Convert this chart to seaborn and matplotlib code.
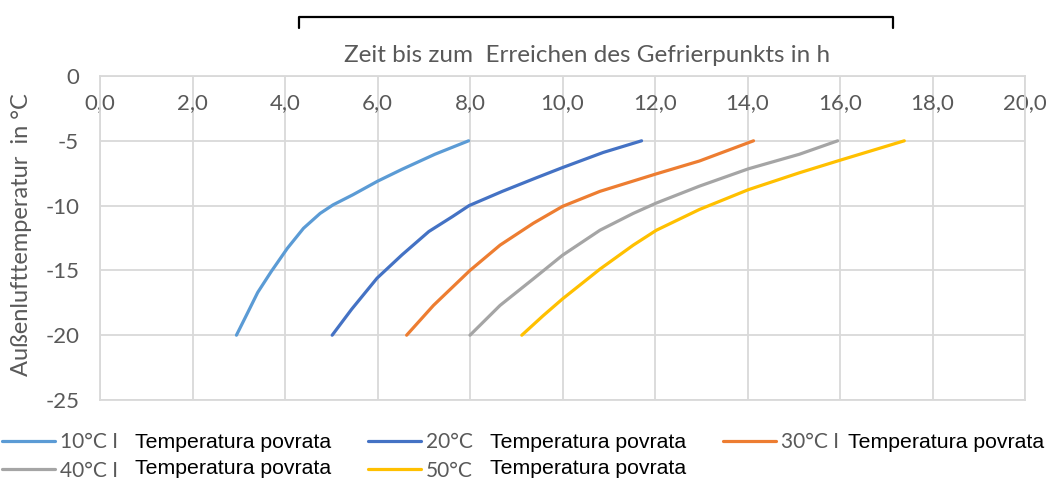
import pandas as pd
import seaborn as sns
import matplotlib.pyplot as plt
from matplotlib.lines import Line2D
from matplotlib.ticker import FuncFormatter, MultipleLocator

# Werte (Zeit in h, Außenlufttemperatur in °C)
temp_10 = [-20, -18.5, -16.7, -15.1, -13.3, -11.75, -10.6, -9.94, -9.16, -8.12, -7.2, -6.04, -5]
zeit_10 = [2.95, 3.16, 3.41, 3.70, 4.05, 4.40, 4.76, 5.04, 5.47, 6.00, 6.53, 7.24, 7.97]

temp_20 = [-20, -18.0, -15.6, -13.8, -12.0, -10.85, -10.0, -8.9, -7.86, -7.08, -5.9, -5]
zeit_20 = [5.02, 5.44, 5.99, 6.53, 7.11, 7.62, 7.98, 8.70, 9.43, 9.99, 10.88, 11.71]

temp_30 = [-20, -17.7, -15.0, -13.05, -11.36, -10.06, -8.9, -7.55, -6.56, -5]
zeit_30 = [6.63, 7.21, 8.00, 8.65, 9.37, 10.00, 10.81, 12.03, 12.96, 14.13]

temp_40 = [-20, -17.7, -15.65, -13.83, -11.9, -10.6, -9.8, -8.5, -7.16, -6.04, -5]
zeit_40 = [8.00, 8.65, 9.37, 10.00, 10.81, 11.53, 12.03, 12.96, 14.02, 15.12, 15.95]

temp_50 = [-20, -18.5, -17.2, -14.9, -13.05, -11.9, -10.3, -8.77, -7.47, -6.5, -5]
zeit_50 = [9.12, 9.58, 10.00, 10.81, 11.53, 12.03, 12.96, 14.02, 15.12, 16.00, 17.39]

serien = ['10°C', '20°C', '30°C', '40°C', '50°C']
legend_labels = ['10°C I', '20°C', '30°C I', '40°C I', '50°C']
farben = ['#5B9BD5', '#4472C4', '#ED7D31', '#A5A5A5', '#FFC000']

df = pd.concat([
    pd.DataFrame({'Zeit': z, 'Temp': t, 'Serie': s})
    for z, t, s in zip([zeit_10, zeit_20, zeit_30, zeit_40, zeit_50],
                       [temp_10, temp_20, temp_30, temp_40, temp_50], serien)
])

sns.set_theme(style='white')
plt.rcParams['axes.unicode_minus'] = False
plt.rcParams['font.family'] = ['Lato', 'DejaVu Sans']

W, H = 1052, 482
fig = plt.figure(figsize=(W / 100, H / 100), dpi=100)
ax = fig.add_axes([100 / W, 1 - 400 / H, 925 / W, 324 / H])

sns.lineplot(data=df, x='Zeit', y='Temp', hue='Serie', palette=farben,
             estimator=None, sort=False, linewidth=2.3, legend=False, ax=ax)

ax.set_xlim(0, 20)
ax.set_ylim(-25, 0)
ax.xaxis.set_major_locator(MultipleLocator(2))
ax.yaxis.set_major_locator(MultipleLocator(5))
ax.xaxis.set_major_formatter(FuncFormatter(lambda v, p: f'{v:.1f}'.replace('.', ',')))
ax.yaxis.set_major_formatter(FuncFormatter(lambda v, p: f'{v:.0f}'))
ax.xaxis.tick_top()
ax.grid(True, color='#D9D9D9', linewidth=1.3)
for sp in ax.spines.values():
    sp.set_color('#D9D9D9')
    sp.set_linewidth(1.3)
ax.tick_params(axis='x', length=0, pad=-27, labelsize=16, labelcolor='#595959')
ax.tick_params(axis='y', length=0, pad=15, labelsize=16, labelcolor='#595959')
ax.set_xlabel('')
ax.set_ylabel('')

# Titel und Achsenbeschriftung
fig.text(587 / W, 1 - 55 / H, 'Zeit bis zum  Erreichen des Gefrierpunkts in h',
         ha='center', va='center', fontsize=17.5, color='#595959')
fig.text(22 / W, 1 - 235 / H, 'Außenlufttemperatur  in °C', rotation=90,
         ha='center', va='center', fontsize=17, color='#595959')

# Klammer oben
bx = [299 / W, 299 / W, 893 / W, 893 / W]
by = [1 - 28 / H, 1 - 17 / H, 1 - 17 / H, 1 - 28 / H]
fig.add_artist(Line2D(bx, by, color='black', linewidth=1.6, transform=fig.transFigure))

# Legende unten (Reihenfolge zeilenweise)
lines = ax.get_lines()[:5]
order = [0, 3, 1, 4, 2]
leg = fig.legend([lines[i] for i in order], [legend_labels[i] for i in order],
                 ncol=3, loc='upper left', bbox_to_anchor=(2 / W, 1 - 432 / H),
                 frameon=False, fontsize=15, handlelength=2.55, handletextpad=0.24,
                 columnspacing=12.0, labelspacing=0.42, borderpad=0, borderaxespad=0)
for t in leg.get_texts():
    t.set_color('#595959')

for x, y in [(135, 442), (490, 442), (848, 442), (135, 468), (490, 468)]:
    fig.text(x / W, 1 - y / H, 'Temperatura povrata', ha='left', va='center',
             fontsize=15.3, color='black', family='Liberation Sans')

fig.savefig('out.png', dpi=100)
